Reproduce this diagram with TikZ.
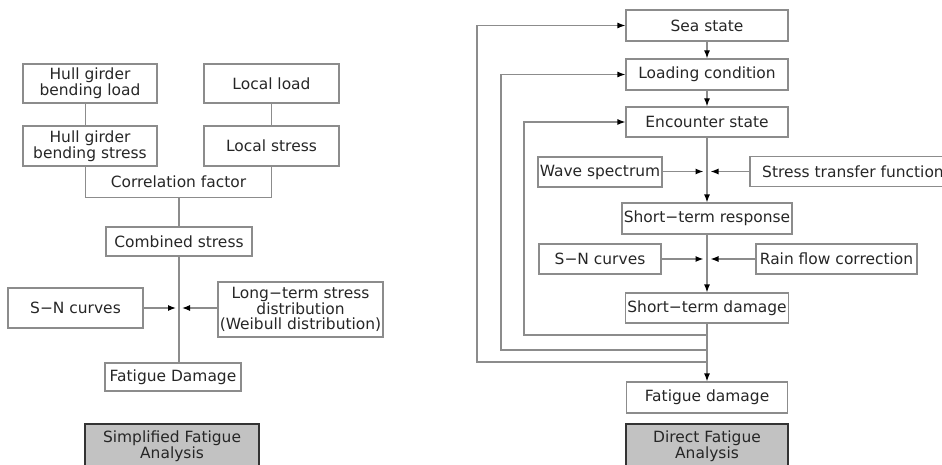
\documentclass[tikz,border=0pt]{standalone}
\usepackage{fontspec}
\setmainfont{DejaVu Sans}
\usepackage{xcolor}
\usetikzlibrary{arrows.meta}

\begin{document}
\begin{tikzpicture}[x=0.02cm, y=-0.02cm,
    blk/.style={draw=black!45, line width=0.7pt, text=black!85, align=center,
      inner sep=1pt, font=\fontsize{8.8}{9}\selectfont},
    lbl/.style={blk, draw=black!80, line width=1.2pt, fill=black!24},
    flow/.style={draw=black!45, line width=0.7pt},
    arr/.style={flow, -{Latex[black, length=1.6mm, width=1.2mm]}}]
    \useasboundingbox (0,0) rectangle (942,465);

    %% simplified analysis
    \node[blk, minimum width=2.68cm, minimum height=0.78cm] (hgload) at (90,83.5) {Hull girder\\bending load};
    \node[blk, minimum width=2.7cm, minimum height=0.78cm] (locload) at (271.5,83.5) {Local load};
    \node[blk, minimum width=2.68cm, minimum height=0.8cm] (hgstress) at (90,146) {Hull girder\\bending stress};
    \node[blk, minimum width=2.7cm, minimum height=0.8cm] (locstress) at (271.5,146) {Local stress};
    \node[blk, draw=none, minimum width=3.7cm, minimum height=0.62cm] (corr) at (178.5,181.5) {Correlation factor};
    \draw[flow] (corr.north west) |- (corr.south east) -- (corr.north east);
    \draw[flow] (hgload.south -| corr.west) -- (hgstress.north -| corr.west);
    \draw[flow] (locload.south -| corr.east) -- (locstress.north -| corr.east);

    \node[blk, minimum width=2.92cm, minimum height=0.58cm] (comb) at (179,241.5) {Combined stress};
    \node[blk, minimum width=2.7cm, minimum height=0.8cm] (snA) at (75.5,308) {S−N curves};
    \node[blk, minimum width=3.3cm, minimum height=1.1cm] (longterm) at (300.5,309.5) {Long−term stress\\distribution\\(Weibull distribution)};
    \node[blk, minimum width=2.72cm, minimum height=0.56cm] (fdamA) at (173,377) {Fatigue Damage};
    \coordinate (jA) at (179,308);

    \draw[flow] (corr.south -| comb.north) -- (comb.north);
    \draw[flow] (comb.south) -- (comb.south |- fdamA.north);
    \draw[arr] (snA.east) -- ([xshift=-0.06cm]jA);
    \draw[arr] (longterm.west |- jA) -- ([xshift=0.06cm]jA);

    \node[lbl, minimum width=3.48cm, minimum height=0.88cm] (simp) at (172,446) {Simplified Fatigue\\Analysis};

    %% direct analysis
    \node[blk, minimum width=3.24cm, minimum height=0.62cm] (sea) at (707,25.5) {Sea state};
    \node[blk, minimum width=3.24cm, minimum height=0.62cm] (loadc) at (707,74.5) {Loading condition};
    \node[blk, minimum width=3.24cm, minimum height=0.6cm] (enc) at (707,122) {Encounter state};
    \node[blk, minimum width=2.44cm, minimum height=0.6cm] (wave) at (600,172) {Wave spectrum};
    \node[blk, minimum width=4.12cm, minimum height=0.6cm] (stf) at (853,171.5) {Stress transfer function};
    \node[blk, minimum width=3.4cm, minimum height=0.62cm] (resp) at (707,218.5) {Short−term response};
    \node[blk, minimum width=2.44cm, minimum height=0.6cm] (snB) at (600,259) {S−N curves};
    \node[blk, minimum width=3.22cm, minimum height=0.6cm] (rain) at (836.5,259) {Rain flow correction};
    \node[blk, minimum width=3.22cm, minimum height=0.6cm] (std) at (707,308) {Short−term damage};
    \node[blk, minimum width=3.22cm, minimum height=0.62cm] (fdamB) at (707,397.5) {Fatigue damage};
    \coordinate (jB) at (707,171.5);
    \coordinate (jC) at (707,259);

    \draw[arr] (sea) -- (loadc);
    \draw[arr] (loadc) -- (enc);
    \draw[arr] (enc) -- (resp);
    \draw[arr] (resp) -- (std);
    \draw[arr] (std) -- (fdamB);
    \draw[arr] (wave.east |- jB) -- ([xshift=-0.07cm]jB);
    \draw[arr] (stf.west |- jB) -- ([xshift=0.07cm]jB);
    \draw[arr] (snB.east) -- ([xshift=-0.07cm]jC);
    \draw[arr] (rain.west) -- ([xshift=0.07cm]jC);

    %% feedback loops
    \coordinate (fbA) at (524,335);
    \coordinate (fbB) at (501,350);
    \coordinate (fbC) at (477,362);
    \draw[arr] (std.south |- fbA) -- (fbA) |- (enc.west);
    \draw[arr] (std.south |- fbB) -- (fbB) |- (loadc.west);
    \draw[arr] (std.south |- fbC) -- (fbC) |- (sea.west);

    \node[lbl, minimum width=3.24cm, minimum height=0.88cm] (direct) at (707,446) {Direct Fatigue\\Analysis};
\end{tikzpicture}
\end{document}
